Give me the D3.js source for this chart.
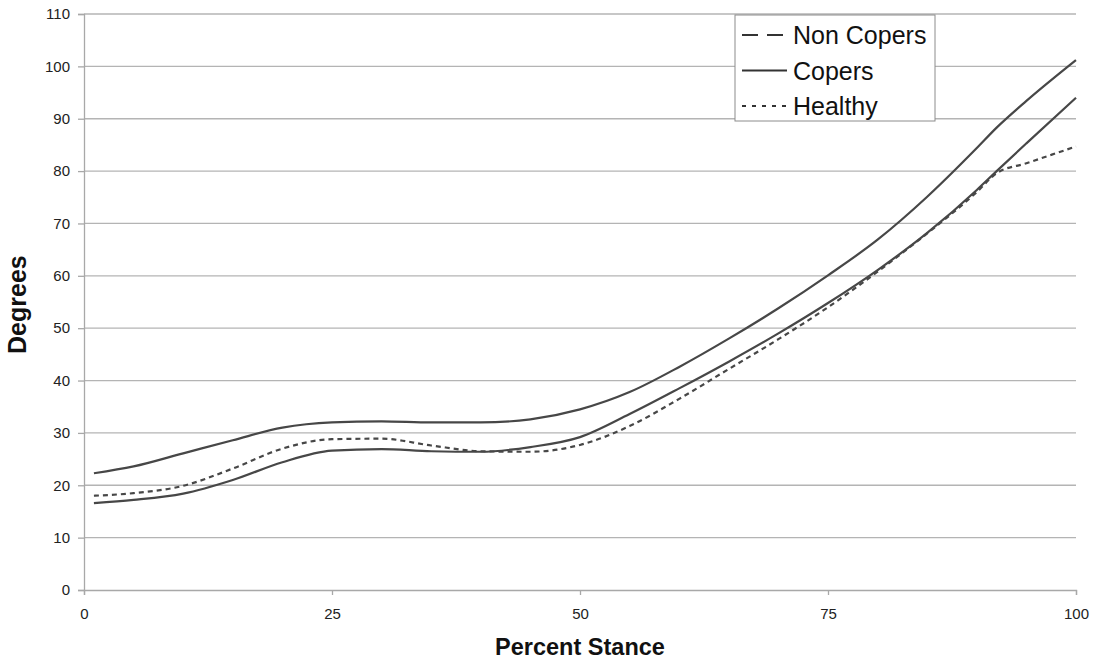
<!DOCTYPE html>
<html>
<head>
<meta charset="utf-8">
<script src="https://cdn.jsdelivr.net/npm/d3@7"></script>
<style>
  body { margin: 0; background: #fff; }
  text { font-family: "Liberation Sans", Arial, sans-serif; }
</style>
</head>
<body>
<div id="chart"></div>
<script>
const width = 1105;
const height = 664;

// percent stance sample points
const pct = [1, 5, 10, 15, 20, 25, 30, 35, 40, 45, 50, 55, 60, 65, 70, 75, 80, 85, 90, 92, 95, 100];
const nonCopers = [22.3, 23.6, 26.1, 28.6, 31.0, 32.0, 32.2, 32.0, 32.0, 32.6, 34.5, 37.8, 42.6, 48.0, 53.8, 60.1, 66.9, 75.1, 84.4, 88.3, 93.4, 101.2];
const copers = [16.6, 17.2, 18.4, 21.0, 24.4, 26.6, 26.9, 26.5, 26.4, 27.3, 29.2, 33.6, 38.5, 43.6, 49.0, 54.8, 61.1, 68.2, 76.4, 80.0, 85.3, 94.0];
const healthy = [18.0, 18.5, 19.9, 23.2, 27.0, 28.8, 28.9, 27.6, 26.5, 26.4, 27.7, 31.3, 36.5, 42.2, 47.9, 54.0, 60.8, 68.1, 76.0, 79.6, 81.5, 84.7];
const yTicks = [0, 10, 20, 30, 40, 50, 60, 70, 80, 90, 100, 110];
const xTicks = [0, 25, 50, 75, 100];

const margin = { top: 14, right: 29, bottom: 74, left: 84 };

const svg = d3
  .select("#chart")
  .append("svg")
  .attr("width", width)
  .attr("height", height);

const x = d3.scaleLinear().domain([0, 100]).range([margin.left, width - margin.right]);
const y = d3.scaleLinear().domain([0, 110]).range([height - margin.bottom, margin.top]);

// gridlines
svg
  .append("g")
  .selectAll("line")
  .data(yTicks.filter((d) => d > 0))
  .enter()
  .append("line")
  .attr("x1", x(0))
  .attr("x2", x(100))
  .attr("y1", (d) => y(d))
  .attr("y2", (d) => y(d))
  .style("stroke", "#b4b4b4")
  .style("stroke-width", 1.3);

// y axis
const yAxis = svg
  .append("g")
  .attr("transform", `translate(${x(0)},0)`)
  .call(d3.axisLeft(y).tickValues(yTicks).tickSize(6).tickPadding(8));
yAxis.select(".domain").style("stroke", "#a8a8a8").style("stroke-width", 1.3);
yAxis.selectAll(".tick line").style("stroke", "#a8a8a8").style("stroke-width", 1.3);
yAxis.selectAll("text").style("font-size", "15px").style("fill", "#222");

// x axis
const xAxis = svg
  .append("g")
  .attr("transform", `translate(0,${y(0)})`)
  .call(d3.axisBottom(x).tickValues(xTicks).tickSize(5).tickPadding(13));
xAxis.select(".domain").style("stroke", "#a8a8a8").style("stroke-width", 1.3);
xAxis.selectAll(".tick line").style("stroke", "#a8a8a8").style("stroke-width", 1.3);
xAxis.selectAll("text").style("font-size", "15px").style("fill", "#222");

// axis titles
svg
  .append("text")
  .attr("x", (x(0) + x(100)) / 2)
  .attr("y", 655)
  .attr("text-anchor", "middle")
  .style("font-size", "23.5px")
  .style("font-weight", "bold")
  .style("fill", "#111")
  .text("Percent Stance");

svg
  .append("text")
  .attr("transform", `translate(26,${y(54.5)}) rotate(-90)`)
  .attr("text-anchor", "middle")
  .style("font-size", "25px")
  .style("font-weight", "bold")
  .style("fill", "#111")
  .text("Degrees");

// series
const series = [
  { name: "Non Copers", values: nonCopers, dash: null, legendDash: "16,9" },
  { name: "Copers", values: copers, dash: null, legendDash: null },
  { name: "Healthy", values: healthy, dash: "5,4", legendDash: "4,6" },
];

const line = d3
  .line()
  .x((d) => x(d[0]))
  .y((d) => y(d[1]))
  .curve(d3.curveMonotoneX);

svg
  .append("g")
  .selectAll("path")
  .data(series)
  .enter()
  .append("path")
  .attr("d", (s) => line(pct.map((p, i) => [p, s.values[i]])))
  .attr("fill", "none")
  .style("stroke", "#474747")
  .style("stroke-width", 2.2)
  .style("stroke-dasharray", (s) => s.dash);

// legend
const legend = svg.append("g").attr("transform", "translate(735,15)");
legend
  .append("rect")
  .attr("width", 200)
  .attr("height", 106)
  .attr("fill", "#fff")
  .style("stroke", "#8c8c8c")
  .style("stroke-width", 1);

const item = legend
  .selectAll("g.item")
  .data(series)
  .enter()
  .append("g")
  .attr("class", "item")
  .attr("transform", (d, i) => `translate(0,${20 + i * 35.5})`);

item
  .append("line")
  .attr("x1", 7)
  .attr("x2", 52)
  .style("stroke", "#333")
  .style("stroke-width", 2)
  .style("stroke-dasharray", (d) => d.legendDash);

item
  .append("text")
  .attr("x", 58)
  .attr("dy", "0.36em")
  .style("font-size", "25px")
  .style("fill", "#111")
  .text((d) => d.name);
</script>
</body>
</html>
